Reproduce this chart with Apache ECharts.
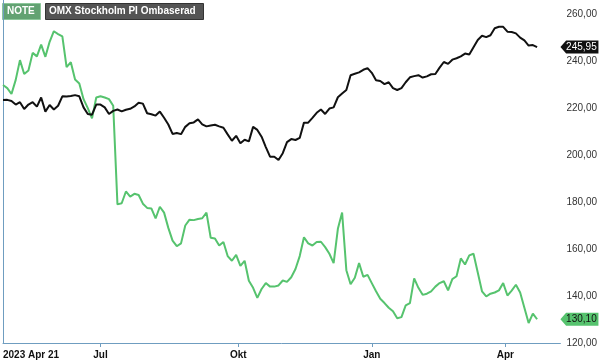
<!DOCTYPE html>
<html>

<head>
    <meta charset="utf-8" />
    <title>NOTE vs OMX Stockholm PI</title>
    <script src="https://cdn.jsdelivr.net/npm/echarts@6/dist/echarts.min.js"></script>
</head>

<body style="margin: 0">
    <div id="main" style="width: 600px; height: 361px"></div>
    <script type="text/javascript">
        // one value every 2nd trading day from 2023-04-21
        var dayStep = 2;
        var lastDay = 263;

        var noteValues = [
            229.8, 228.5, 226, 232, 240.4, 234.5, 236, 243.5, 242, 247, 241.8, 248.2, 252.7, 251.5, 250.5, 237.4,
            239.5, 232.2, 230.5, 223.8, 220, 215.6, 224.5, 225, 224.5, 223.8, 221, 179, 179.5, 184.5, 182.3, 183.5, 183,
            179.3, 177.5, 177.3, 173, 178, 175.5, 169, 163.6, 161.2, 162.4, 170, 172.5, 172.3, 172.8, 173.1, 175.5,
            164.8, 164.5, 161.5, 163, 157, 155, 157.5, 152.8, 155, 146.5, 143.5, 139.2, 143, 145.5, 144,
            144, 144.5, 146.6, 146, 148, 151.5, 157, 165, 162.4, 161.5, 163, 163.1, 160.8, 158, 154, 168.6,
            175.5, 151, 145, 147.8, 154, 148.2, 149, 145.5, 142, 138.8, 137, 135, 133.5, 130.5, 131, 136,
            137, 147.5, 143.5, 140.5, 141, 142, 144, 145.5, 146.3, 142.4, 147.2, 148.4, 156, 153.4, 157.3,
            158, 150, 142, 139.8, 141, 141.5, 142.4, 145.5, 140.2, 142.3, 144.8, 141.5, 135, 128.5, 132.5, 130.1
        ];

        var indexValues = [
            223.4, 223.5, 223, 221.5, 222.5, 219.6, 221.5, 222.5, 220.6, 224.5, 218.5, 221.3, 219.4, 221, 225, 224.9,
            225.1, 225.5, 225, 220.3, 217.5, 217.2, 221.5, 221.5, 220.3, 217.5, 218.8, 219.4, 218.6, 219.3, 219.7, 220.7, 222.3,
            221.9, 217.8, 217.4, 216.8, 218.5, 215.9, 213, 209, 209.4, 208.9, 212, 213.5, 213.9, 215.2, 213.1, 212.2,
            212.6, 212.9, 212.2, 211.6, 208.8, 206.1, 208.2, 205, 206.5, 205.8, 212, 210.7, 207.8, 203.4, 199.3,
            199.3, 197.9, 200.8, 205.5, 206.8, 206.4, 207.3, 213.8, 213.8, 215.8, 218, 219.4, 217.5, 219.8, 220.3, 224.6,
            226.2, 227.7, 234, 234.6, 235.2, 236.3, 237, 235, 231.8, 231.5, 230.2, 231, 228.5, 227.7, 228.5, 231,
            233.1, 233.6, 234, 233, 233.5, 234.4, 234.5, 237.2, 239.6, 238.8, 240.6, 241.2, 242, 243.2, 242.8,
            245.9, 249, 250.8, 250.2, 251, 254, 254.6, 254.6, 252.5, 252.4, 251.8, 250, 248.8, 246.6, 246.8, 245.95
        ];

        // trading-day index of each x label
        var tickDays = [0, 46, 111, 174, 237];
        var tickLabels = ["2023 Apr 21", "Jul", "Okt", "Jan", "Apr"];

        var noteColor = "#56c36e";
        var indexColor = "#111111";
        var axisColor = "#6f9dc0";

        function toPairs(values) {
            return values.map(function (v, k) {
                return [k * dayStep, v];
            });
        }

        function fmt(v) {
            return v.toFixed(2).replace(".", ",");
        }

        function endTag(values, bg, fg) {
            var last = values[values.length - 1];
            return {
                silent: true,
                symbol: "path://M0,6.5 L6,0 L40,0 L40,13 L6,13 Z",
                symbolSize: [38, 13],
                symbolOffset: [19, 0],
                itemStyle: { color: bg },
                label: {
                    show: true,
                    position: "inside",
                    offset: [2, 0],
                    color: fg,
                    fontSize: 10,
                    fontFamily: "Liberation Sans",
                    formatter: fmt(last)
                },
                data: [{ coord: [lastDay, last] }]
            };
        }

        var myChart = echarts.init(document.getElementById("main"));

        var option = {
            animation: false,
            grid: { left: 0, right: 39, top: 0, bottom: 18 },
            graphic: [
                { type: "rect", left: 2, top: 3, shape: { width: 38, height: 16 }, style: { fill: "#62a272", stroke: "#8cc79a", lineWidth: 1 } },
                { type: "text", left: 7, top: 6, style: { text: "NOTE", fill: "#fff", font: "bold 10px Liberation Sans" } },
                { type: "rect", left: 45, top: 3, shape: { width: 158, height: 16 }, style: { fill: "#545454", stroke: "#333", lineWidth: 1 } },
                { type: "text", left: 49, top: 6, style: { text: "OMX Stockholm PI Ombaserad", fill: "#fff", font: "bold 10px Liberation Sans" } }
            ],
            xAxis: {
                type: "value",
                min: 0,
                max: lastDay,
                splitLine: { show: false },
                axisLine: { show: true, lineStyle: { color: axisColor } },
                axisTick: {
                    show: true,
                    length: 4,
                    customValues: tickDays.slice(1),
                    lineStyle: { color: axisColor }
                },
                axisLabel: {
                    customValues: tickDays,
                    alignMinLabel: "left",
                    margin: 7,
                    color: "#111",
                    fontSize: 10,
                    fontWeight: "bold",
                    fontFamily: "Liberation Sans",
                    formatter: function (v) {
                        var k = tickDays.indexOf(v);
                        return k >= 0 ? tickLabels[k] : "";
                    }
                }
            },
            yAxis: {
                type: "value",
                position: "right",
                min: 120,
                max: 266,
                interval: 20,
                splitLine: { show: false },
                axisLine: { show: true, lineStyle: { color: axisColor } },
                axisTick: { show: false },
                axisLabel: {
                    showMaxLabel: false,
                    margin: 6,
                    color: "#333",
                    fontSize: 10,
                    fontFamily: "Liberation Sans",
                    formatter: function (v) {
                        return fmt(v);
                    }
                }
            },
            series: [
                {
                    name: "NOTE",
                    type: "line",
                    data: toPairs(noteValues),
                    showSymbol: false,
                    lineStyle: { color: noteColor, width: 2 },
                    itemStyle: { color: noteColor },
                    markPoint: endTag(noteValues, noteColor, "#111")
                },
                {
                    name: "OMX Stockholm PI Ombaserad",
                    type: "line",
                    data: toPairs(indexValues),
                    showSymbol: false,
                    lineStyle: { color: indexColor, width: 2 },
                    itemStyle: { color: indexColor },
                    markPoint: endTag(indexValues, indexColor, "#fff")
                }
            ]
        };

        myChart.setOption(option);
    </script>
</body>

</html>
